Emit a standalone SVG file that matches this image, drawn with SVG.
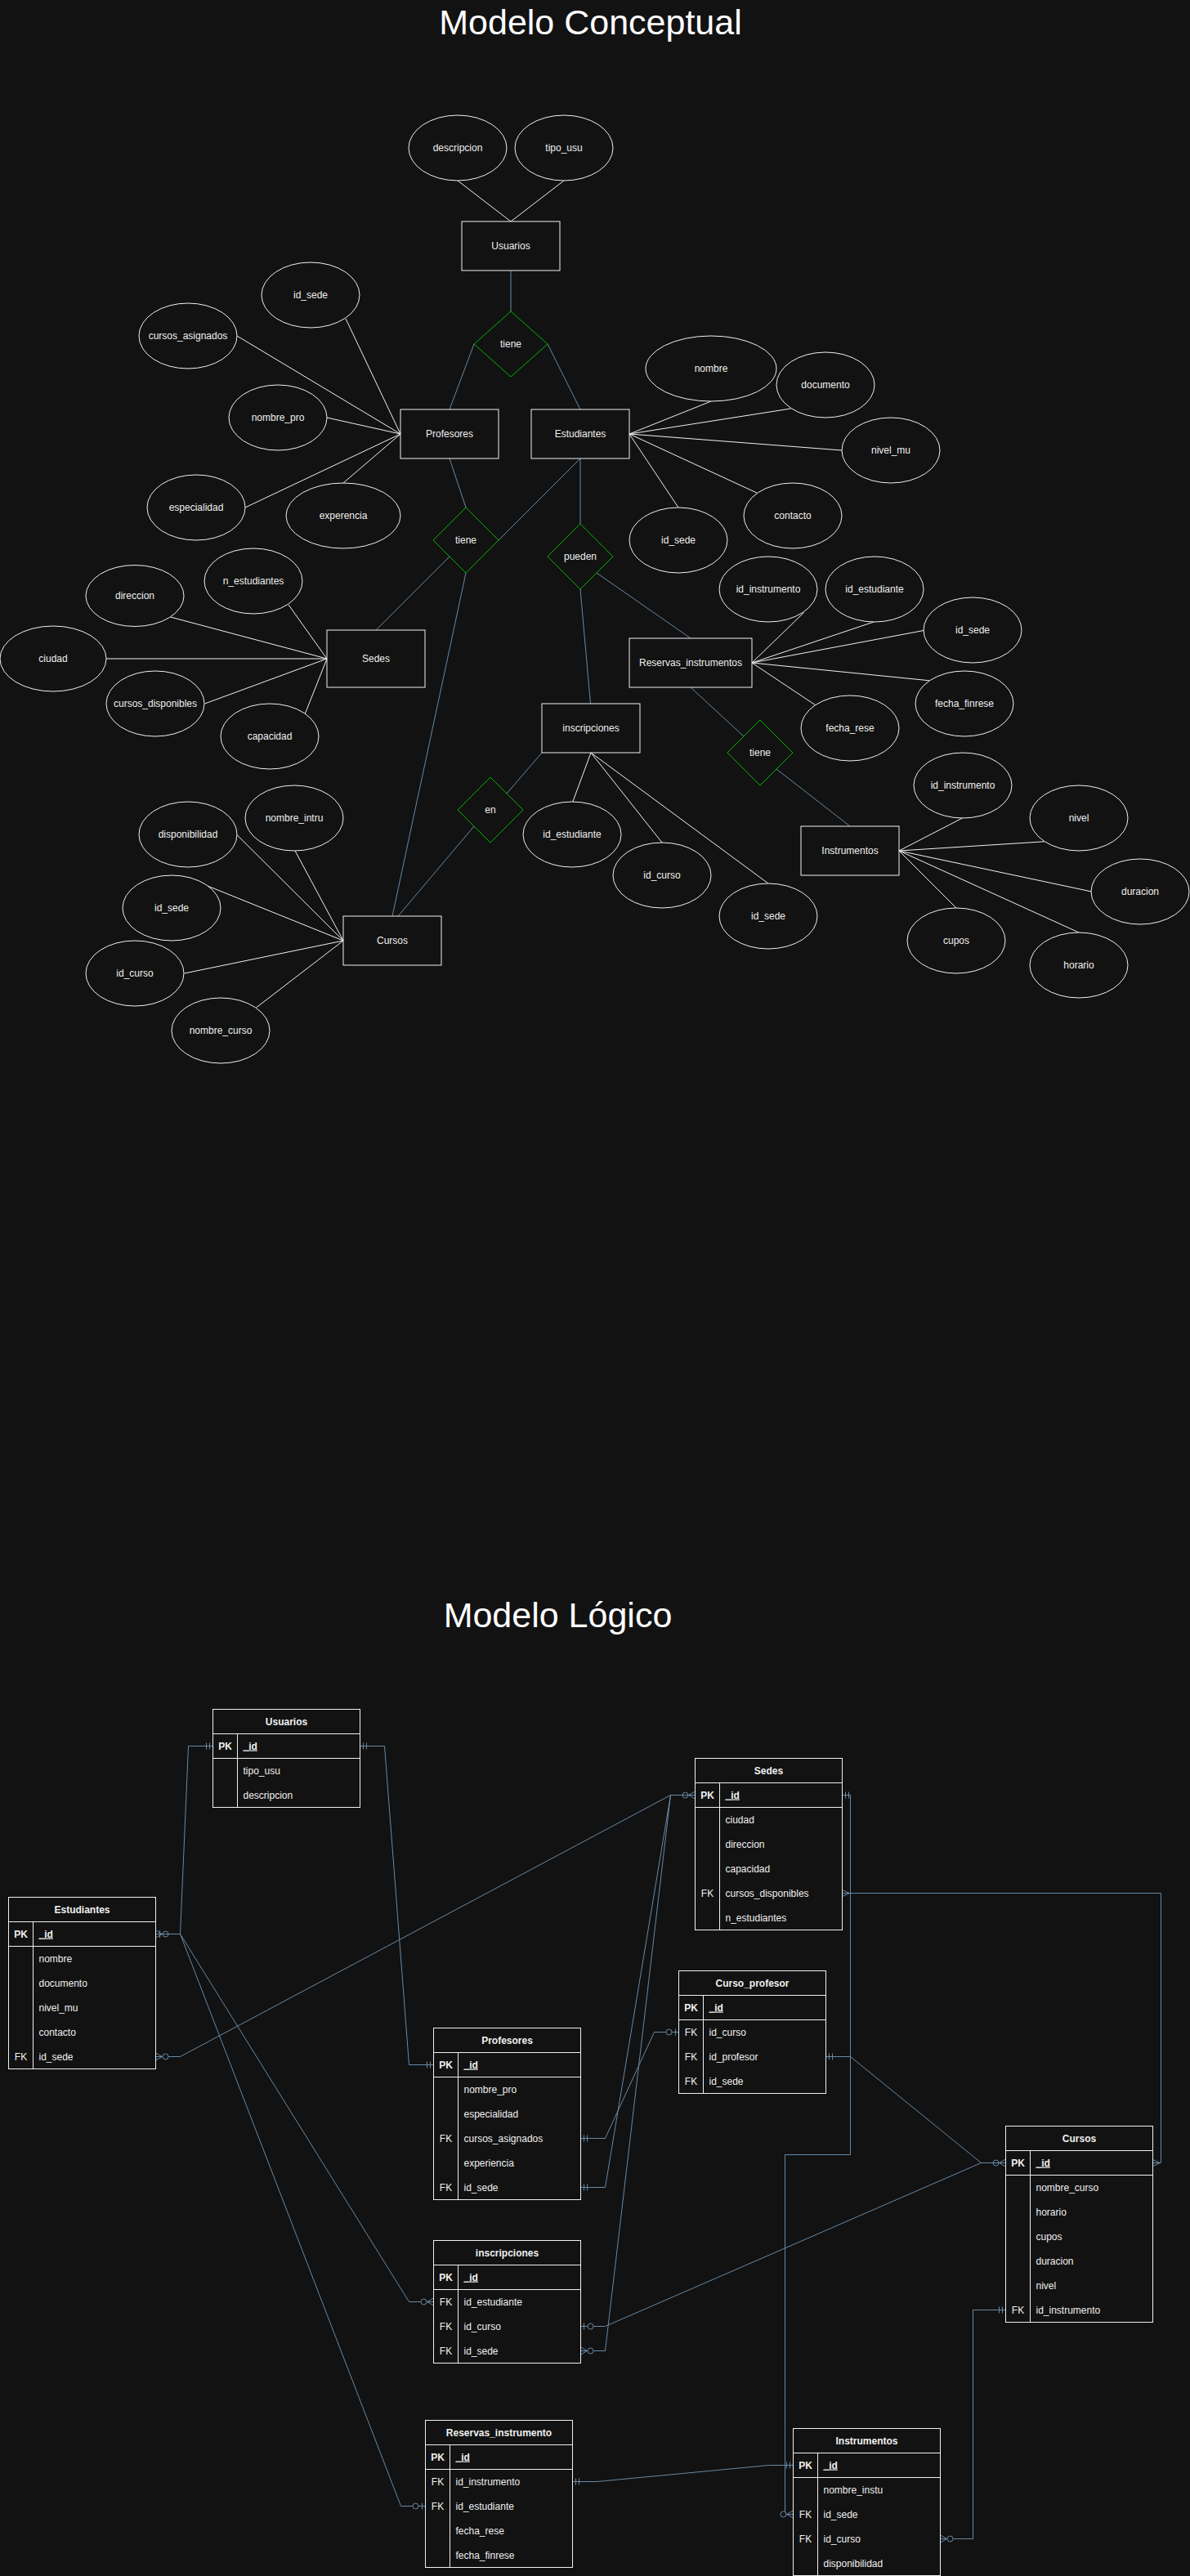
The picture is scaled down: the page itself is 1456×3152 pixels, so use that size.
<svg xmlns="http://www.w3.org/2000/svg" width="1456" height="3152" viewBox="0 0 1456 3152">
<style>
.t{font-family:"Liberation Sans",Arial,sans-serif;font-size:12px;fill:#f0f0f0;text-anchor:middle}
.ts{font-family:"Liberation Sans",Arial,sans-serif;font-size:12px;fill:#f0f0f0;text-anchor:start}
.b{font-weight:bold}
.u{text-decoration:underline}
.title{font-family:"Liberation Sans",Arial,sans-serif;font-size:43px;fill:#ffffff;text-anchor:middle}
.shape{fill:#121212;stroke:#f0f0f0;stroke-width:1}
.dia{fill:#121212;stroke:#00b400;stroke-width:1}
.al{stroke:#f0f0f0;stroke-width:1;fill:none}
.rl{stroke:#6789a5;stroke-width:1;fill:none}
.tl{stroke:#f0f0f0;stroke-width:1;fill:none}
.mk{stroke:#6789a5;stroke-width:1;fill:none}
.mc{stroke:#6789a5;stroke-width:1;fill:#121212}
</style>
<defs>
<marker id="mOne" markerUnits="userSpaceOnUse" orient="auto-start-reverse" overflow="visible" markerWidth="1" markerHeight="1" refX="0" refY="0"><path class="mk" d="M-4,-4V4M-8,-4V4"/></marker>
<marker id="zOne" markerUnits="userSpaceOnUse" orient="auto-start-reverse" overflow="visible" markerWidth="1" markerHeight="1" refX="0" refY="0"><path class="mk" d="M-4,-4V4"/><circle class="mc" cx="-12" cy="0" r="3.5"/></marker>
<marker id="zMany" markerUnits="userSpaceOnUse" orient="auto-start-reverse" overflow="visible" markerWidth="1" markerHeight="1" refX="0" refY="0"><path class="mk" d="M0,-4.5L-8,0L0,4.5"/><circle class="mc" cx="-12" cy="0" r="3.5"/></marker>
<marker id="many" markerUnits="userSpaceOnUse" orient="auto-start-reverse" overflow="visible" markerWidth="1" markerHeight="1" refX="0" refY="0"><path class="mk" d="M0,-4L-9,0L0,4"/></marker>
<marker id="combo" markerUnits="userSpaceOnUse" orient="auto-start-reverse" overflow="visible" markerWidth="1" markerHeight="1" refX="0" refY="0"><path class="mk" d="M0,-4.5L-8,0L0,4.5M-5,-4.5V4.5"/><circle class="mc" cx="-12" cy="0" r="3.5"/></marker>
</defs>
<rect x="0" y="0" width="1456" height="3152" fill="#121212"/>

<text class="title" x="722.5" y="42">Modelo Conceptual</text>
<text class="title" x="682.5" y="1991">Modelo Lógico</text>

<g id="connectors-conceptual">
<g class="al">
<line x1="560" y1="221" x2="625" y2="271"/>
<line x1="690" y1="221" x2="625" y2="271"/>
<line x1="423" y1="390" x2="490" y2="531"/>
<line x1="290" y1="411" x2="490" y2="531"/>
<line x1="400" y1="511" x2="490" y2="531"/>
<line x1="300" y1="621" x2="490" y2="531"/>
<line x1="420" y1="591" x2="490" y2="531"/>
<line x1="870" y1="491" x2="770" y2="531"/>
<line x1="967.5" y1="500" x2="770" y2="531"/>
<line x1="1030" y1="551" x2="770" y2="531"/>
<line x1="928" y1="604" x2="770" y2="531"/>
<line x1="830" y1="621" x2="770" y2="531"/>
<line x1="353" y1="740" x2="400" y2="806"/>
<line x1="208.6" y1="755" x2="400" y2="806"/>
<line x1="130" y1="806" x2="400" y2="806"/>
<line x1="250.6" y1="861" x2="400" y2="806"/>
<line x1="373" y1="874" x2="400" y2="806"/>
<line x1="983.6" y1="749.5" x2="920" y2="811"/>
<line x1="1069" y1="761" x2="920" y2="811"/>
<line x1="1130" y1="771.5" x2="920" y2="811"/>
<line x1="1137.4" y1="832.8" x2="920" y2="811"/>
<line x1="998.2" y1="863.1" x2="920" y2="811"/>
<line x1="723" y1="921" x2="700.8" y2="981"/>
<line x1="723" y1="921" x2="810" y2="1031"/>
<line x1="723" y1="921" x2="940" y2="1081"/>
<line x1="1100" y1="1041" x2="1177.5" y2="1001"/>
<line x1="1100" y1="1041" x2="1277.6" y2="1029.8"/>
<line x1="1100" y1="1041" x2="1335.6" y2="1091"/>
<line x1="1100" y1="1041" x2="1320" y2="1141"/>
<line x1="1100" y1="1041" x2="1170" y2="1111"/>
<line x1="290" y1="1021.6" x2="420" y2="1151"/>
<line x1="361" y1="1041" x2="420" y2="1151"/>
<line x1="254" y1="1084" x2="420" y2="1151"/>
<line x1="225.6" y1="1191" x2="420" y2="1151"/>
<line x1="313.4" y1="1233" x2="420" y2="1151"/>
</g>
<g class="rl">
<line x1="625" y1="331" x2="625" y2="381"/>
<line x1="580" y1="421" x2="550" y2="501"/>
<line x1="670" y1="421" x2="710" y2="501"/>
<line x1="550" y1="561" x2="570" y2="621"/>
<line x1="610" y1="661" x2="710" y2="561"/>
<line x1="710" y1="561" x2="710" y2="641"/>
<line x1="550" y1="681" x2="460" y2="771"/>
<line x1="570" y1="701" x2="480" y2="1121"/>
<line x1="710" y1="721" x2="722.5" y2="861"/>
<line x1="730" y1="701" x2="845" y2="781"/>
<line x1="845" y1="841" x2="910" y2="901"/>
<line x1="950" y1="941" x2="1040" y2="1011"/>
<line x1="663" y1="921" x2="620" y2="971"/>
<line x1="580" y1="1011" x2="487" y2="1121"/>
</g>
</g>

<g id="c-usuarios"><rect class="shape" x="565" y="271" width="120" height="60"/><text class="t" x="625" y="305">Usuarios</text></g>
<g id="c-descripcion"><ellipse class="shape" cx="560" cy="181" rx="60" ry="40"/><text class="t" x="560" y="185">descripcion</text></g>
<g id="c-tipo_usu"><ellipse class="shape" cx="690" cy="181" rx="60" ry="40"/><text class="t" x="690" y="185">tipo_usu</text></g>
<g id="c-tiene1"><polygon class="dia" points="625,381 670,421 625,461 580,421"/><text class="t" x="625" y="425">tiene</text></g>
<g id="c-profesores"><rect class="shape" x="490" y="501" width="120" height="60"/><text class="t" x="550" y="535">Profesores</text></g>
<g id="c-estudiantes"><rect class="shape" x="650" y="501" width="120" height="60"/><text class="t" x="710" y="535">Estudiantes</text></g>
<g id="c-pro-id_sede"><ellipse class="shape" cx="380" cy="361" rx="60" ry="40"/><text class="t" x="380" y="365">id_sede</text></g>
<g id="c-cursos_asignados"><ellipse class="shape" cx="230" cy="411" rx="60" ry="40"/><text class="t" x="230" y="415">cursos_asignados</text></g>
<g id="c-nombre_pro"><ellipse class="shape" cx="340" cy="511" rx="60" ry="40"/><text class="t" x="340" y="515">nombre_pro</text></g>
<g id="c-especialidad"><ellipse class="shape" cx="240" cy="621" rx="60" ry="40"/><text class="t" x="240" y="625">especialidad</text></g>
<g id="c-experencia"><ellipse class="shape" cx="420" cy="631" rx="70" ry="40"/><text class="t" x="420" y="635">experencia</text></g>
<g id="c-nombre"><ellipse class="shape" cx="870" cy="451" rx="80" ry="40"/><text class="t" x="870" y="455">nombre</text></g>
<g id="c-documento"><ellipse class="shape" cx="1010" cy="471" rx="60" ry="40"/><text class="t" x="1010" y="475">documento</text></g>
<g id="c-nivel_mu"><ellipse class="shape" cx="1090" cy="551" rx="60" ry="40"/><text class="t" x="1090" y="555">nivel_mu</text></g>
<g id="c-contacto"><ellipse class="shape" cx="970" cy="631" rx="60" ry="40"/><text class="t" x="970" y="635">contacto</text></g>
<g id="c-est-id_sede"><ellipse class="shape" cx="830" cy="661" rx="60" ry="40"/><text class="t" x="830" y="665">id_sede</text></g>
<g id="c-tiene2"><polygon class="dia" points="570,621 610,661 570,701 530,661"/><text class="t" x="570" y="665">tiene</text></g>
<g id="c-pueden"><polygon class="dia" points="710,641 750,681 710,721 670,681"/><text class="t" x="710" y="685">pueden</text></g>
<g id="c-sedes"><rect class="shape" x="400" y="771" width="120" height="70"/><text class="t" x="460" y="810">Sedes</text></g>
<g id="c-n_estudiantes"><ellipse class="shape" cx="310" cy="711" rx="60" ry="40"/><text class="t" x="310" y="715">n_estudiantes</text></g>
<g id="c-direccion"><ellipse class="shape" cx="165" cy="729" rx="60" ry="37.5"/><text class="t" x="165" y="733">direccion</text></g>
<g id="c-ciudad"><ellipse class="shape" cx="65" cy="806" rx="65" ry="40"/><text class="t" x="65" y="810">ciudad</text></g>
<g id="c-cursos_disponibles"><ellipse class="shape" cx="190" cy="861" rx="60" ry="40"/><text class="t" x="190" y="865">cursos_disponibles</text></g>
<g id="c-capacidad"><ellipse class="shape" cx="330" cy="901" rx="60" ry="40"/><text class="t" x="330" y="905">capacidad</text></g>
<g id="c-reservas"><rect class="shape" x="770" y="781" width="150" height="60"/><text class="t" x="845" y="815">Reservas_instrumentos</text></g>
<g id="c-res-id_instrumento"><ellipse class="shape" cx="940" cy="721" rx="60" ry="40"/><text class="t" x="940" y="725">id_instrumento</text></g>
<g id="c-res-id_estudiante"><ellipse class="shape" cx="1070" cy="721" rx="60" ry="40"/><text class="t" x="1070" y="725">id_estudiante</text></g>
<g id="c-res-id_sede"><ellipse class="shape" cx="1190" cy="771" rx="60" ry="40"/><text class="t" x="1190" y="775">id_sede</text></g>
<g id="c-fecha_finrese"><ellipse class="shape" cx="1180" cy="861" rx="60" ry="40"/><text class="t" x="1180" y="865">fecha_finrese</text></g>
<g id="c-fecha_rese"><ellipse class="shape" cx="1040" cy="891" rx="60" ry="40"/><text class="t" x="1040" y="895">fecha_rese</text></g>
<g id="c-inscripciones"><rect class="shape" x="663" y="861" width="120" height="60"/><text class="t" x="723" y="895">inscripciones</text></g>
<g id="c-ins-id_estudiante"><ellipse class="shape" cx="700" cy="1021" rx="60" ry="40"/><text class="t" x="700" y="1025">id_estudiante</text></g>
<g id="c-ins-id_curso"><ellipse class="shape" cx="810" cy="1071" rx="60" ry="40"/><text class="t" x="810" y="1075">id_curso</text></g>
<g id="c-ins-id_sede"><ellipse class="shape" cx="940" cy="1121" rx="60" ry="40"/><text class="t" x="940" y="1125">id_sede</text></g>
<g id="c-tiene3"><polygon class="dia" points="930,881 970,921 930,961 890,921"/><text class="t" x="930" y="925">tiene</text></g>
<g id="c-instrumentos"><rect class="shape" x="980" y="1011" width="120" height="60"/><text class="t" x="1040" y="1045">Instrumentos</text></g>
<g id="c-ins2-id_instrumento"><ellipse class="shape" cx="1178" cy="961" rx="60" ry="40"/><text class="t" x="1178" y="965">id_instrumento</text></g>
<g id="c-nivel"><ellipse class="shape" cx="1320" cy="1001" rx="60" ry="40"/><text class="t" x="1320" y="1005">nivel</text></g>
<g id="c-duracion"><ellipse class="shape" cx="1395" cy="1091" rx="60" ry="40"/><text class="t" x="1395" y="1095">duracion</text></g>
<g id="c-cupos"><ellipse class="shape" cx="1170" cy="1151" rx="60" ry="40"/><text class="t" x="1170" y="1155">cupos</text></g>
<g id="c-horario"><ellipse class="shape" cx="1320" cy="1181" rx="60" ry="40"/><text class="t" x="1320" y="1185">horario</text></g>
<g id="c-en"><polygon class="dia" points="600,951 640,991 600,1031 560,991"/><text class="t" x="600" y="995">en</text></g>
<g id="c-cursos"><rect class="shape" x="420" y="1121" width="120" height="60"/><text class="t" x="480" y="1155">Cursos</text></g>
<g id="c-disponibilidad"><ellipse class="shape" cx="230" cy="1021" rx="60" ry="40"/><text class="t" x="230" y="1025">disponibilidad</text></g>
<g id="c-nombre_intru"><ellipse class="shape" cx="360" cy="1001" rx="60" ry="40"/><text class="t" x="360" y="1005">nombre_intru</text></g>
<g id="c-cur-id_sede"><ellipse class="shape" cx="210" cy="1111" rx="60" ry="40"/><text class="t" x="210" y="1115">id_sede</text></g>
<g id="c-cur-id_curso"><ellipse class="shape" cx="165" cy="1191" rx="60" ry="40"/><text class="t" x="165" y="1195">id_curso</text></g>
<g id="c-nombre_curso"><ellipse class="shape" cx="270" cy="1261" rx="60" ry="40"/><text class="t" x="270" y="1265">nombre_curso</text></g>

<g id="connectors-logico" class="rl">
<polyline points="260.5,2136.5 230.5,2136.5 220.5,2366.5 190.5,2366.5" marker-start="url(#mOne)" marker-end="url(#combo)"/>
<polyline points="440.5,2136.5 470.5,2136.5 500.5,2526.5 530.5,2526.5" marker-start="url(#mOne)" marker-end="url(#mOne)"/>
<polyline points="190.5,2516.5 220.5,2516.5 820.5,2196.5 850.5,2196.5" marker-start="url(#zMany)" marker-end="url(#zMany)"/>
<polyline points="190.5,2366.5 220.5,2366.5 500.5,2816.5 530.5,2816.5" marker-end="url(#zMany)"/>
<polyline points="190.5,2366.5 220.5,2366.5 490.5,3066.5 520.5,3066.5" marker-end="url(#zOne)"/>
<polyline points="710.5,2616.5 740.5,2616.5 800.5,2486.5 830.5,2486.5" marker-start="url(#mOne)" marker-end="url(#zOne)"/>
<polyline points="710.5,2676.5 740.5,2676.5 820.5,2196.5 850.5,2196.5" marker-start="url(#mOne)"/>
<polyline points="710.5,2876.5 740.5,2876.5 820.5,2196.5 850.5,2196.5" marker-start="url(#zMany)"/>
<polyline points="710.5,2846.5 740.5,2846.5 1200.5,2646.5 1230.5,2646.5" marker-start="url(#zOne)" marker-end="url(#zMany)"/>
<polyline points="1010.5,2516.5 1040.5,2516.5 1200.5,2646.5 1230.5,2646.5" marker-start="url(#mOne)"/>
<polyline points="1030.5,2196.5 1040.5,2196.5 1040.5,2636.5 960.5,2636.5 960.5,3076.5 970.5,3076.5" marker-start="url(#mOne)" marker-end="url(#zMany)"/>
<polyline points="1030.5,2316.5 1420.5,2316.5 1420.5,2646.5 1410.5,2646.5" marker-start="url(#many)" marker-end="url(#many)"/>
<polyline points="700.5,3036.5 730.5,3036.5 940.5,3016.5 970.5,3016.5" marker-start="url(#mOne)" marker-end="url(#mOne)"/>
<polyline points="1230.5,2826.5 1190.5,2826.5 1190.5,3106.5 1150.5,3106.5" marker-start="url(#mOne)" marker-end="url(#zMany)"/>
</g>

<g id="t-usuarios">
<rect class="shape" x="260.5" y="2091.5" width="180" height="120"/>
<path class="tl" d="M260.5,2121.5H440.5M260.5,2151.5H440.5M290.5,2121.5V2211.5"/>
<text class="t b" x="350.5" y="2110.5">Usuarios</text>
<text class="t b" x="275.5" y="2140.5">PK</text><text class="ts b u" x="297.5" y="2140.5">_id</text>
<text class="ts" x="297.5" y="2170.5">tipo_usu</text>
<text class="ts" x="297.5" y="2200.5">descripcion</text>
</g>

<g id="t-estudiantes">
<rect class="shape" x="10.5" y="2321.5" width="180" height="210"/>
<path class="tl" d="M10.5,2351.5H190.5M10.5,2381.5H190.5M40.5,2351.5V2531.5"/>
<text class="t b" x="100.5" y="2340.5">Estudiantes</text>
<text class="t b" x="25.5" y="2370.5">PK</text><text class="ts b u" x="47.5" y="2370.5">_id</text>
<text class="ts" x="47.5" y="2400.5">nombre</text>
<text class="ts" x="47.5" y="2430.5">documento</text>
<text class="ts" x="47.5" y="2460.5">nivel_mu</text>
<text class="ts" x="47.5" y="2490.5">contacto</text>
<text class="t" x="25.5" y="2520.5">FK</text><text class="ts" x="47.5" y="2520.5">id_sede</text>
</g>

<g id="t-profesores">
<rect class="shape" x="530.5" y="2481.5" width="180" height="210"/>
<path class="tl" d="M530.5,2511.5H710.5M530.5,2541.5H710.5M560.5,2511.5V2691.5"/>
<text class="t b" x="620.5" y="2500.5">Profesores</text>
<text class="t b" x="545.5" y="2530.5">PK</text><text class="ts b u" x="567.5" y="2530.5">_id</text>
<text class="ts" x="567.5" y="2560.5">nombre_pro</text>
<text class="ts" x="567.5" y="2590.5">especialidad</text>
<text class="t" x="545.5" y="2620.5">FK</text><text class="ts" x="567.5" y="2620.5">cursos_asignados</text>
<text class="ts" x="567.5" y="2650.5">experiencia</text>
<text class="t" x="545.5" y="2680.5">FK</text><text class="ts" x="567.5" y="2680.5">id_sede</text>
</g>

<g id="t-inscripciones">
<rect class="shape" x="530.5" y="2741.5" width="180" height="150"/>
<path class="tl" d="M530.5,2771.5H710.5M530.5,2801.5H710.5M560.5,2771.5V2891.5"/>
<text class="t b" x="620.5" y="2760.5">inscripciones</text>
<text class="t b" x="545.5" y="2790.5">PK</text><text class="ts b u" x="567.5" y="2790.5">_id</text>
<text class="t" x="545.5" y="2820.5">FK</text><text class="ts" x="567.5" y="2820.5">id_estudiante</text>
<text class="t" x="545.5" y="2850.5">FK</text><text class="ts" x="567.5" y="2850.5">id_curso</text>
<text class="t" x="545.5" y="2880.5">FK</text><text class="ts" x="567.5" y="2880.5">id_sede</text>
</g>

<g id="t-reservas">
<rect class="shape" x="520.5" y="2961.5" width="180" height="180"/>
<path class="tl" d="M520.5,2991.5H700.5M520.5,3021.5H700.5M550.5,2991.5V3141.5"/>
<text class="t b" x="610.5" y="2980.5">Reservas_instrumento</text>
<text class="t b" x="535.5" y="3010.5">PK</text><text class="ts b u" x="557.5" y="3010.5">_id</text>
<text class="t" x="535.5" y="3040.5">FK</text><text class="ts" x="557.5" y="3040.5">id_instrumento</text>
<text class="t" x="535.5" y="3070.5">FK</text><text class="ts" x="557.5" y="3070.5">id_estudiante</text>
<text class="ts" x="557.5" y="3100.5">fecha_rese</text>
<text class="ts" x="557.5" y="3130.5">fecha_finrese</text>
</g>

<g id="t-sedes">
<rect class="shape" x="850.5" y="2151.5" width="180" height="210"/>
<path class="tl" d="M850.5,2181.5H1030.5M850.5,2211.5H1030.5M880.5,2181.5V2361.5"/>
<text class="t b" x="940.5" y="2170.5">Sedes</text>
<text class="t b" x="865.5" y="2200.5">PK</text><text class="ts b u" x="887.5" y="2200.5">_id</text>
<text class="ts" x="887.5" y="2230.5">ciudad</text>
<text class="ts" x="887.5" y="2260.5">direccion</text>
<text class="ts" x="887.5" y="2290.5">capacidad</text>
<text class="t" x="865.5" y="2320.5">FK</text><text class="ts" x="887.5" y="2320.5">cursos_disponibles</text>
<text class="ts" x="887.5" y="2350.5">n_estudiantes</text>
</g>

<g id="t-curso_profesor">
<rect class="shape" x="830.5" y="2411.5" width="180" height="150"/>
<path class="tl" d="M830.5,2441.5H1010.5M830.5,2471.5H1010.5M860.5,2441.5V2561.5"/>
<text class="t b" x="920.5" y="2430.5">Curso_profesor</text>
<text class="t b" x="845.5" y="2460.5">PK</text><text class="ts b u" x="867.5" y="2460.5">_id</text>
<text class="t" x="845.5" y="2490.5">FK</text><text class="ts" x="867.5" y="2490.5">id_curso</text>
<text class="t" x="845.5" y="2520.5">FK</text><text class="ts" x="867.5" y="2520.5">id_profesor</text>
<text class="t" x="845.5" y="2550.5">FK</text><text class="ts" x="867.5" y="2550.5">id_sede</text>
</g>

<g id="t-cursos">
<rect class="shape" x="1230.5" y="2601.5" width="180" height="240"/>
<path class="tl" d="M1230.5,2631.5H1410.5M1230.5,2661.5H1410.5M1260.5,2631.5V2841.5"/>
<text class="t b" x="1320.5" y="2620.5">Cursos</text>
<text class="t b" x="1245.5" y="2650.5">PK</text><text class="ts b u" x="1267.5" y="2650.5">_id</text>
<text class="ts" x="1267.5" y="2680.5">nombre_curso</text>
<text class="ts" x="1267.5" y="2710.5">horario</text>
<text class="ts" x="1267.5" y="2740.5">cupos</text>
<text class="ts" x="1267.5" y="2770.5">duracion</text>
<text class="ts" x="1267.5" y="2800.5">nivel</text>
<text class="t" x="1245.5" y="2830.5">FK</text><text class="ts" x="1267.5" y="2830.5">id_instrumento</text>
</g>

<g id="t-instrumentos">
<rect class="shape" x="970.5" y="2971.5" width="180" height="180"/>
<path class="tl" d="M970.5,3001.5H1150.5M970.5,3031.5H1150.5M1000.5,3001.5V3151.5"/>
<text class="t b" x="1060.5" y="2990.5">Instrumentos</text>
<text class="t b" x="985.5" y="3020.5">PK</text><text class="ts b u" x="1007.5" y="3020.5">_id</text>
<text class="ts" x="1007.5" y="3050.5">nombre_instu</text>
<text class="t" x="985.5" y="3080.5">FK</text><text class="ts" x="1007.5" y="3080.5">id_sede</text>
<text class="t" x="985.5" y="3110.5">FK</text><text class="ts" x="1007.5" y="3110.5">id_curso</text>
<text class="ts" x="1007.5" y="3140.5">disponibilidad</text>
</g>
</svg>
